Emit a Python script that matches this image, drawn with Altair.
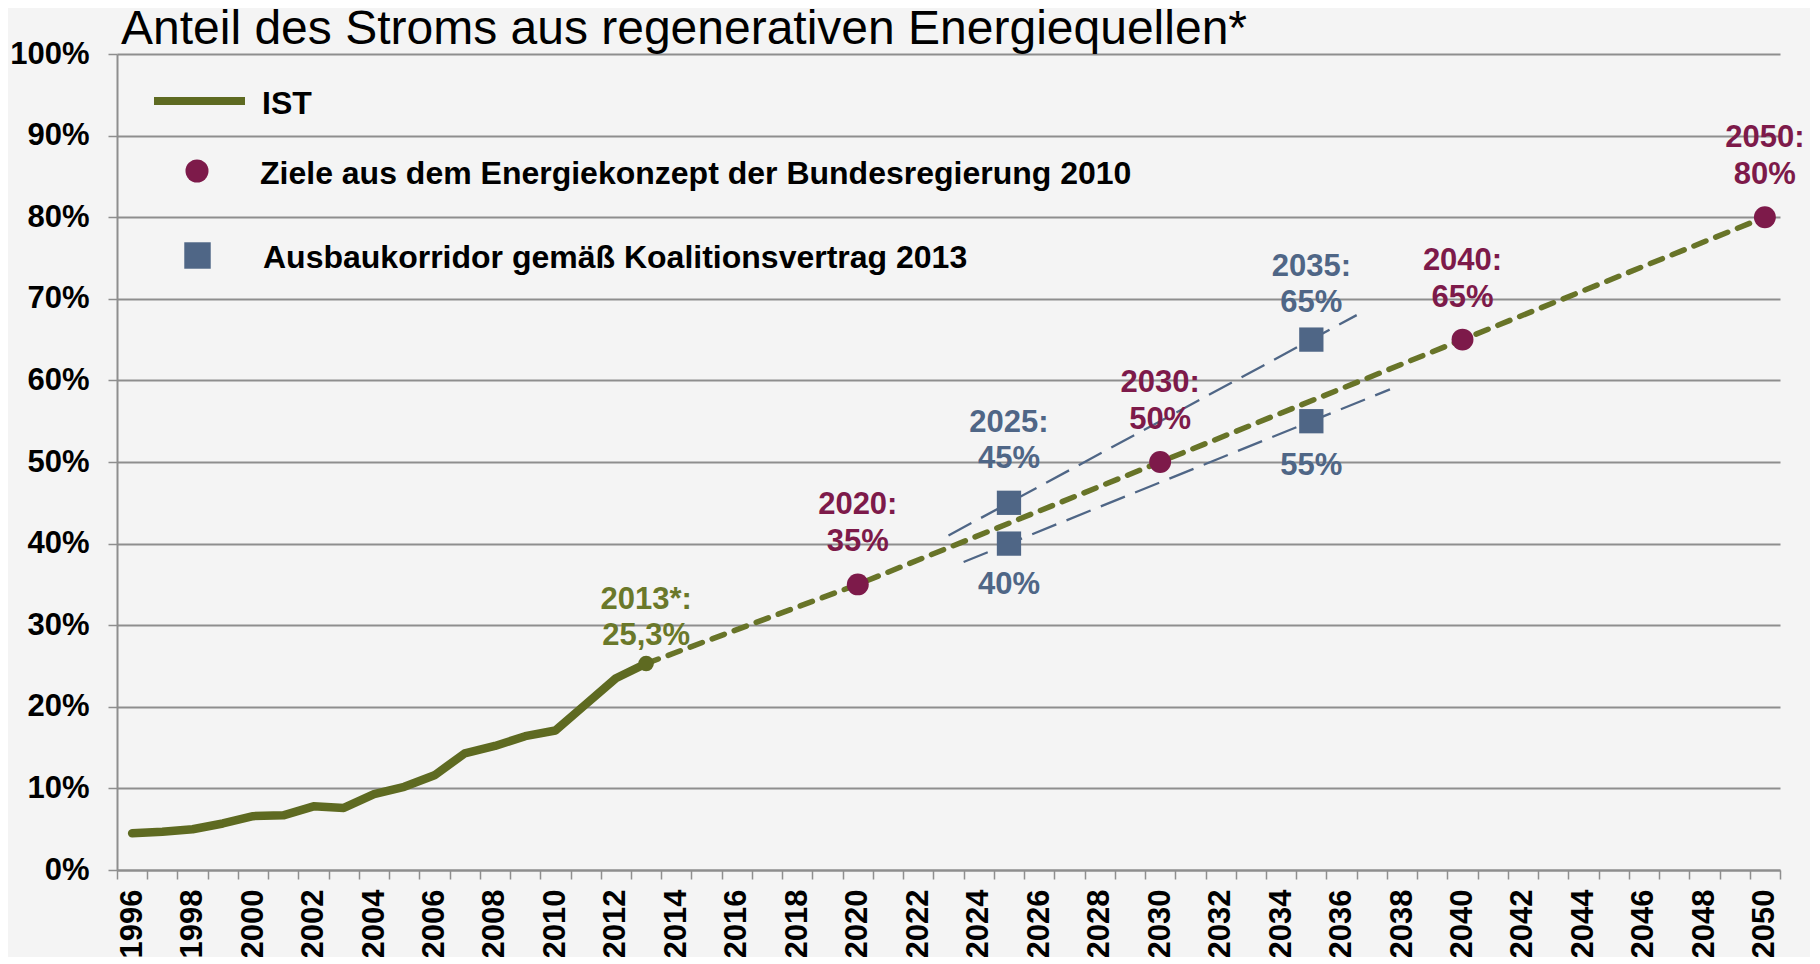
import altair as alt
import pandas as pd

# ---------------- data ----------------
ist_years = list(range(1996, 2014))
ist_share = [4.5, 4.7, 5.0, 5.7, 6.6, 6.7, 7.8, 7.6, 9.3, 10.2, 11.6, 14.3, 15.2, 16.4, 17.1, 20.3, 23.5, 25.3]

trend_years = [2013, 2020, 2030, 2040, 2050]
trend_share = [25.3, 35, 50, 65, 80]

ziele_years = [2020, 2030, 2040, 2050]
ziele_share = [35, 50, 65, 80]

korr_years = [2025, 2025, 2035, 2035]
korr_share = [45, 40, 65, 55]

korr_line_years = [2023, 2036.5, 2023.5, 2037.6]
korr_line_share = [41, 68, 37.75, 58.9]
korr_line_id = ["oben", "oben", "unten", "unten"]

title_text = "Anteil des Stroms aus regenerativen Energiequellen*"
legend_texts = ["IST", "Ziele aus dem Energiekonzept der Bundesregierung 2010",
                "Ausbaukorridor gemäß Koalitionsvertrag 2013"]

year_bounds = [y - 0.5 for y in range(1996, 2052)]
y_ticks = list(range(0, 101, 10))

# ---------------- style ----------------
FONT = "Liberation Sans"
OLIVE_LINE = "#5E6A21"
OLIVE_DASH = "#687428"
OLIVE_TEXT = "#6A782A"
MAROON = "#7D1A4A"
BLUE = "#4F6686"
GRID = "#8E8E8E"
BG = "#F4F4F4"
W, H = 1663, 816

ist_df = pd.DataFrame({"year": ist_years, "share": ist_share})
trend_df = pd.DataFrame({"year": trend_years, "share": trend_share})
ziele_df = pd.DataFrame({"year": ziele_years, "share": ziele_share,
                         "l1": [f"{y}:" for y in ziele_years],
                         "l2": [f"{v}%" for v in ziele_share]})
korr_df = pd.DataFrame({"year": korr_years, "share": korr_share,
                        "l1": [f"{y}:" for y in korr_years],
                        "l2": [f"{v}%" for v in korr_share]})
korr_line_df = pd.DataFrame({"year": korr_line_years, "share": korr_line_share, "id": korr_line_id})
last_df = ist_df.tail(1).assign(l1="2013*:", l2="25,3%")

X = alt.X("year:Q",
          scale=alt.Scale(domain=[1995.5, 2050.5], nice=False, zero=False),
          axis=alt.Axis(values=year_bounds,
                        labelExpr="(datum.value + 0.5) % 2 == 0 ? toString(datum.value + 0.5) : ''",
                        labelAngle=-90, labelOffset=W / 55 / 2, labelFlush=False, labelOverlap=False,
                        tickSize=9, tickWidth=1.5, tickColor=GRID, labelPadding=10,
                        domainColor=GRID, domainWidth=2, grid=False, title=None,
                        labelFont=FONT, labelFontSize=31, labelFontWeight="bold", labelColor="#000000"))
Y = alt.Y("share:Q",
          scale=alt.Scale(domain=[0, 100], nice=False),
          axis=alt.Axis(values=y_ticks, labelExpr="datum.value + '%'",
                        tickSize=9, tickWidth=1.5, tickColor=GRID, labelPadding=19,
                        domainColor=GRID, domainWidth=2, grid=True, gridColor=GRID, gridWidth=2,
                        title=None, labelFont=FONT, labelFontSize=31, labelFontWeight="bold",
                        labelColor="#000000"))

korr_lines = alt.Chart(korr_line_df).mark_line(color=BLUE, strokeWidth=2.3, strokeDash=[26, 11]).encode(
    x=X, y=Y, detail="id:N")
trend = alt.Chart(trend_df).mark_line(color=OLIVE_DASH, strokeWidth=5.5, strokeDash=[13, 10.5],
                                      strokeCap="round").encode(x=X, y=Y)
ist = alt.Chart(ist_df).mark_line(color=OLIVE_LINE, strokeWidth=8.5, strokeJoin="round",
                                  strokeCap="round").encode(x=X, y=Y)
ist_end = alt.Chart(last_df).mark_point(filled=True, shape="circle", size=240, color=OLIVE_LINE,
                                        opacity=1).encode(x=X, y=Y)
ziele = alt.Chart(ziele_df).mark_point(filled=True, shape="circle", size=480, color=MAROON,
                                       opacity=1).encode(x=X, y=Y)
korr = alt.Chart(korr_df).mark_point(filled=True, shape="square", size=590, color=BLUE,
                                     opacity=1).encode(x=X, y=Y)


def label(df, field, color, dy):
    return alt.Chart(df).mark_text(font=FONT, fontSize=31, fontWeight="bold", color=color,
                                   align="center", baseline="middle", dy=dy).encode(
        x=X, y=Y, text=f"{field}:N")


k_top25 = korr_df[(korr_df.year == 2025) & (korr_df.share == 45)]
k_top35 = korr_df[(korr_df.year == 2035) & (korr_df.share == 65)]
k_low25 = korr_df[(korr_df.year == 2025) & (korr_df.share == 40)]
k_low35 = korr_df[(korr_df.year == 2035) & (korr_df.share == 55)]

labels = [
    label(ziele_df, "l1", MAROON, -79), label(ziele_df, "l2", MAROON, -42),
    label(last_df, "l1", OLIVE_TEXT, -64), label(last_df, "l2", OLIVE_TEXT, -28),
    label(k_top25, "l1", BLUE, -80), label(k_top25, "l2", BLUE, -44),
    label(k_top35, "l1", BLUE, -73), label(k_top35, "l2", BLUE, -37),
    label(k_low25, "l2", BLUE, 41), label(k_low35, "l2", BLUE, 45),
]

# ---------------- legend (drawn by hand) ----------------
one = pd.DataFrame({"k": [0]})
leg_line = alt.Chart(one).mark_rule(color=OLIVE_LINE, strokeWidth=8).encode(
    x=alt.value(37), x2=alt.value(128), y=alt.value(47))
leg_circle = alt.Chart(one).mark_point(filled=True, shape="circle", size=530, color=MAROON, opacity=1).encode(
    x=alt.value(80), y=alt.value(117))
leg_square = alt.Chart(one).mark_point(filled=True, shape="square", size=700, color=BLUE, opacity=1).encode(
    x=alt.value(80.5), y=alt.value(201.5))


def leg_text(i, x, y):
    d = pd.DataFrame({"t": [legend_texts[i]]})
    return alt.Chart(d).mark_text(font=FONT, fontSize=32, fontWeight="bold", color="#000000",
                                  align="left", baseline="middle").encode(
        x=alt.value(x), y=alt.value(y), text="t:N")


title = alt.Chart(pd.DataFrame({"t": [title_text]})).mark_text(
    font=FONT, fontSize=48, color="#000000", align="left", baseline="alphabetic").encode(
    x=alt.value(4), y=alt.value(-10), text="t:N")

chart = alt.layer(
    korr_lines, trend, ist, ist_end, ziele, korr, *labels,
    leg_line, leg_circle, leg_square,
    leg_text(0, 145, 50), leg_text(1, 143, 120), leg_text(2, 146, 204),
    title,
).properties(
    width=W, height=H,
    autosize=alt.AutoSizeParams(type="none"),
    padding={"left": 109, "top": 46, "right": 30, "bottom": 87},
    background=BG,
).configure_view(stroke=None)

chart.save("out.html", embed_options={"renderer": "svg", "actions": False})
